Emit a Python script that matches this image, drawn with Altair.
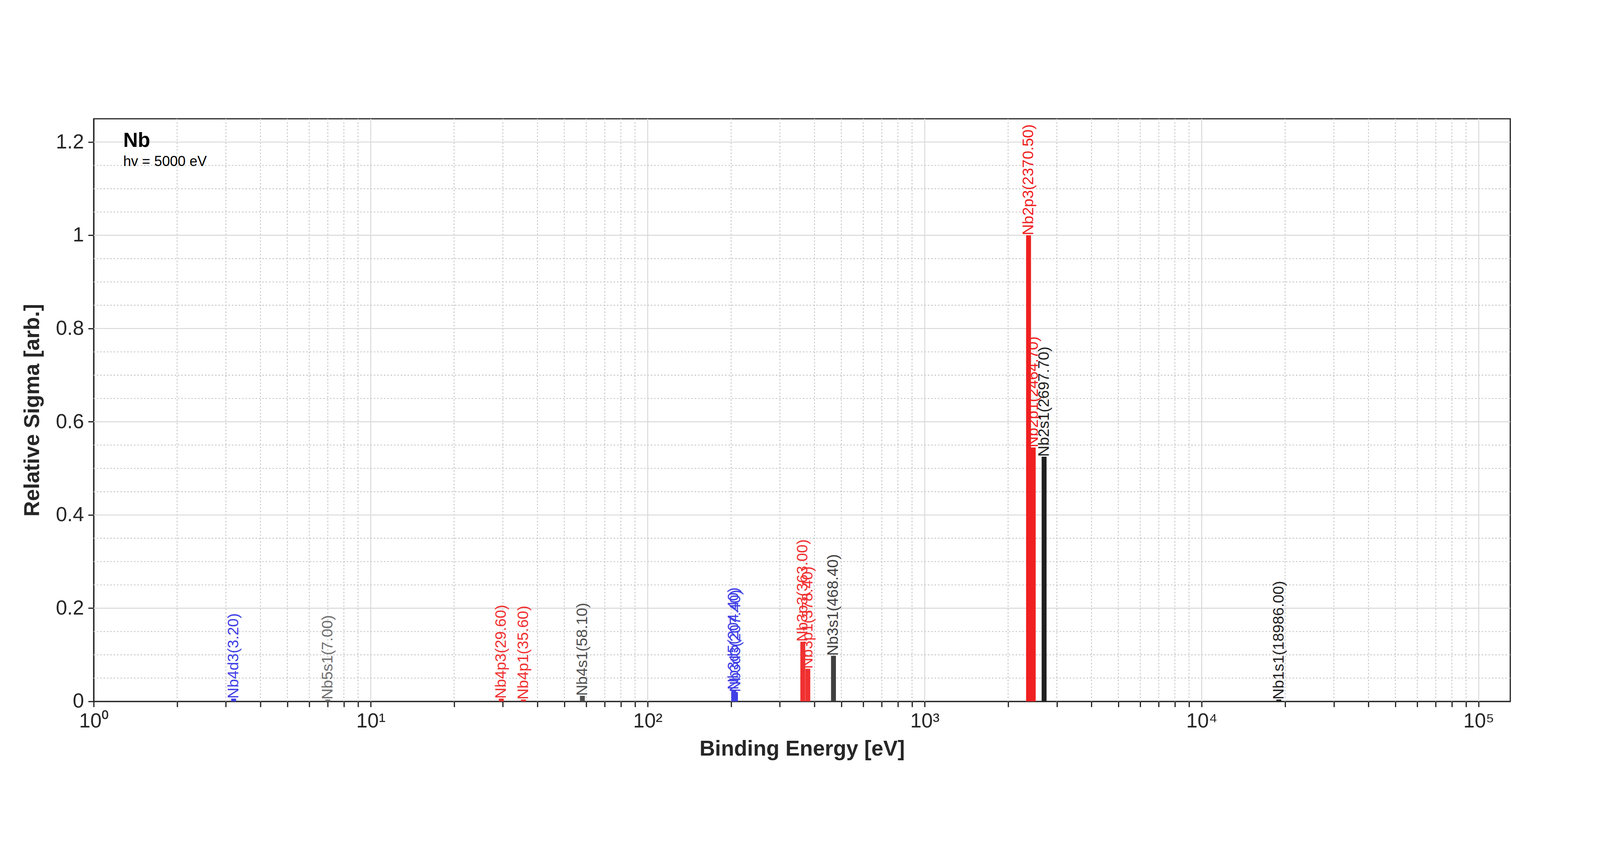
import altair as alt
import pandas as pd

names = ["Nb4d3", "Nb5s1", "Nb4p3", "Nb4p1", "Nb4s1", "Nb3d5", "Nb3d3",
         "Nb3p3", "Nb3p1", "Nb3s1", "Nb2p3", "Nb2p1", "Nb2s1", "Nb1s1"]
energy = [3.2, 7.0, 29.6, 35.6, 58.1, 204.4, 207.4,
          363.0, 378.4, 468.4, 2370.5, 2464.7, 2697.7, 18986.0]
sigma = [0.006, 0.004, 0.006, 0.004, 0.012, 0.025, 0.02,
         0.128, 0.07, 0.098, 1.0, 0.545, 0.525, 0.004]
colors = ["#4040e6", "#707070", "#f03030", "#f03030", "#505050", "#4040e6", "#4040e6",
          "#f03030", "#f03030", "#404040", "#f02020", "#f02020", "#202020", "#202020"]

major_x = [1, 10, 100, 1000, 10000, 100000]
minor_x = [m * d for d in [1, 10, 100, 1000, 10000, 100000] for m in range(2, 10) if m * d < 130000]
major_y = [0, 0.2, 0.4, 0.6, 0.8, 1.0, 1.2]
minor_y = [i * 0.05 for i in range(25) if i % 4 != 0]

df = pd.DataFrame({"name": names, "e": energy, "s": sigma, "c": colors})
df["label"] = [f"{n}({e:.2f})" for n, e in zip(names, energy)]

xs = alt.Scale(type="log", domain=[1, 130000], nice=False)
ys = alt.Scale(domain=[0, 1.25], nice=False)

sup = {1: "10⁰", 10: "10¹", 100: "10²", 1000: "10³", 10000: "10⁴", 100000: "10⁵"}
expr = " : ".join(f"datum.value == {k} ? '{v}'" for k, v in sup.items()) + " : ''"

gx_major = alt.Chart(pd.DataFrame({"v": major_x[1:]})).mark_rule(color="#d8d8d8", strokeWidth=3).encode(
    x=alt.X("v:Q", scale=xs))
gx_minor = alt.Chart(pd.DataFrame({"v": minor_x})).mark_rule(color="#c8c8c8", strokeWidth=3, strokeDash=[5, 6]).encode(
    x=alt.X("v:Q", scale=xs))
gy_major = alt.Chart(pd.DataFrame({"v": major_y[1:]})).mark_rule(color="#d8d8d8", strokeWidth=3).encode(
    y=alt.Y("v:Q", scale=ys))
gy_minor = alt.Chart(pd.DataFrame({"v": minor_y})).mark_rule(color="#c8c8c8", strokeWidth=3, strokeDash=[5, 6]).encode(
    y=alt.Y("v:Q", scale=ys))

bars = alt.Chart(df).mark_rule(strokeWidth=16).encode(
    x=alt.X("e:Q", scale=xs, title="Binding Energy [eV]",
            axis=alt.Axis(values=major_x + minor_x, labelExpr=expr, grid=False,
                          tickSize=18, tickWidth=4, domainWidth=4, domainColor="#262626",
                          tickColor="#262626", labelFontSize=66, titleFontSize=70,
                          titleFontWeight="bold", labelPadding=14, titlePadding=24,
                          labelColor="#262626", titleColor="#262626", labelFlush=False)),
    y=alt.Y("s:Q", scale=ys, title="Relative Sigma [arb.]",
            axis=alt.Axis(values=major_y, format="~g", grid=False, tickSize=18, tickWidth=4,
                          domainWidth=4, domainColor="#262626", tickColor="#262626",
                          labelFontSize=66, titleFontSize=70, titleFontWeight="bold",
                          labelPadding=14, titlePadding=40, labelColor="#262626",
                          titleColor="#262626")),
    y2=alt.datum(0),
    color=alt.Color("c:N", scale=None),
)

labels = alt.Chart(df).mark_text(angle=270, align="left", baseline="middle", fontSize=50,
                                 font="Liberation Sans").encode(
    x=alt.X("e:Q", scale=xs), y=alt.Y("s:Q", scale=ys), text="label:N",
    color=alt.Color("c:N", scale=None))

title1 = alt.Chart(pd.DataFrame({"t": ["Nb"]})).mark_text(
    align="left", baseline="top", fontSize=66, fontWeight="bold", font="Liberation Sans").encode(
    x=alt.value(96), y=alt.value(40), text="t:N")
title2 = alt.Chart(pd.DataFrame({"t": ["hv = 5000 eV"]})).mark_text(
    align="left", baseline="top", fontSize=46, font="Liberation Sans").encode(
    x=alt.value(96), y=alt.value(118), text="t:N")

chart = alt.layer(gx_minor, gx_major, gy_minor, gy_major, bars, labels, title1, title2).properties(
    width=5190, height=2195,
    autosize=alt.AutoSizeParams(type="fit", contains="padding"),
    padding={"left": 60, "top": 76, "right": 280, "bottom": 30},
).configure_view(stroke="#262626", strokeWidth=4).configure_axis(
    labelFont="Liberation Sans", titleFont="Liberation Sans")

chart.save("out.html", embed_options={"renderer": "svg", "actions": False})
